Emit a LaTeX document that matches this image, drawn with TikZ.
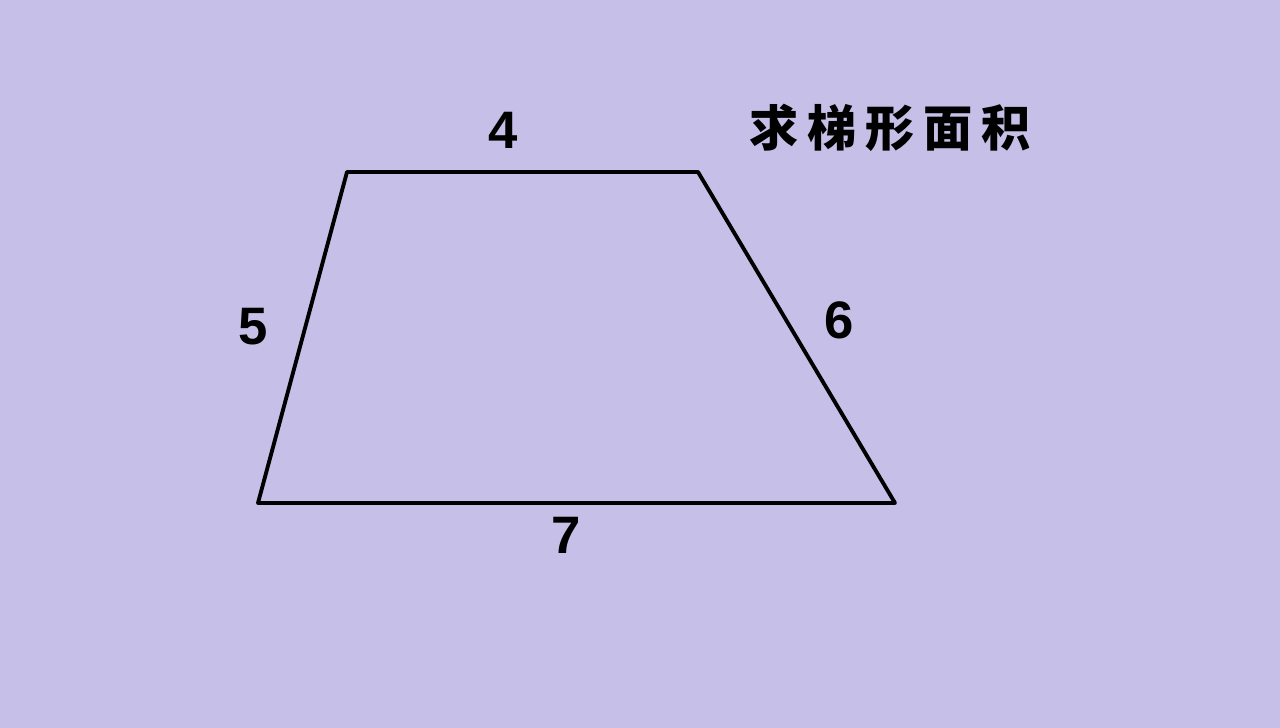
\documentclass[tikz,border=0pt]{standalone}
\usepackage{fontspec}
\setmainfont{Liberation Sans}
\newfontfamily\cjk{Noto Sans CJK SC}
\definecolor{lavender}{RGB}{198,191,231}
\tikzset{
    side/.style={font=\fontsize{30}{30}\selectfont\bfseries},
}
\begin{document}
\begin{tikzpicture}
        \fill[lavender] (0,0) rectangle (25.6,14.56) ;
        \useasboundingbox (0,0) rectangle (25.6,14.56) ;
        \coordinate (A) at (5.16,4.5) ;
        \coordinate (B) at (6.94,11.12) ;
        \coordinate (C) at (13.96,11.12) ;
        \coordinate (D) at (17.9,4.5) ;
        \draw[line width=2.2pt, line join=round, line cap=round] (A) -- (B) -- (C) -- (D) -- cycle ;
            \node[side] (top) at (10.06,11.96) {4} ;
            \node[side] (left) at (5.06,8.02) {5} ;
            \node[side] (right) at (16.78,8.16) {6} ;
            \node[side] (bottom) at (11.32,3.86) {7} ;
            \node[font=\cjk\bfseries\fontsize{28}{28}\selectfont] (title) at (17.8,12.0) {求\hspace{5pt}梯\hspace{5pt}形\hspace{5pt}面\hspace{5pt}积} ;
        \end{tikzpicture}
\end{document}
